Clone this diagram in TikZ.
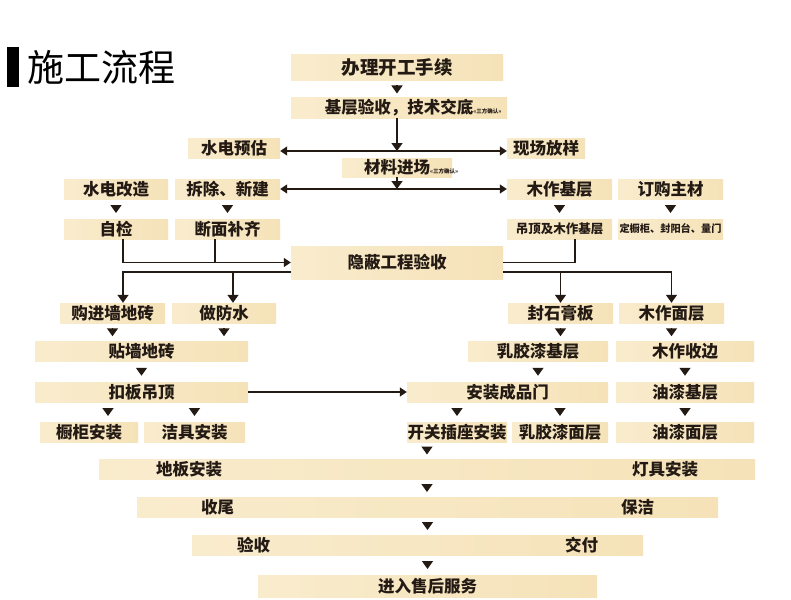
\documentclass[tikz,border=0pt]{standalone}
\usepackage{fontspec}
\setmainfont{Noto Sans CJK SC}
\usetikzlibrary{arrows.meta,calc}

\definecolor{boxleft}{RGB}{249,236,205}
\definecolor{boxright}{RGB}{245,226,184}
\definecolor{ink}{RGB}{36,26,20}

\newcommand{\boxfont}{\fontsize{16.5}{18}\selectfont\bfseries}
\newcommand{\sanfang}{\rlap{\fontsize{5.5}{6}\selectfont «三方确认»}}
\newcommand{\tri}[2]{\path (#1) coordinate (t) -- (t |- #2.north) coordinate[midway] (m);
    \draw[vtip] ([yshift=4pt]m) -- ([yshift=-4pt]m);}

\tikzset{
    box/.style={left color=boxleft, right color=boxright, inner sep=0pt, minimum height=20, text=ink, font=\boxfont},
    line/.style={draw=ink, line width=1.5pt},
    vtip/.style={line, -{Triangle[width=11pt,length=8pt]}},
    htip/.style={line, -{Triangle[width=9pt,length=7pt]}}
}

\begin{document}
\begin{tikzpicture}[x=1pt, y=-1pt]
                \useasboundingbox (0,0) rectangle (791,599);

                \node[fill=black, minimum width=12, minimum height=40, inner sep=0pt] (bar) at (13,67) {};
                \node[anchor=west, inner sep=0pt, font=\fontsize{37}{40}\selectfont] (title) at (27,67) {施工流程};

                \node[box, minimum width=212, minimum height=26, font=\fontsize{18.5}{20}\selectfont\bfseries] (kaigong) at (397,68) {办理开工手续};
                \node[box, minimum width=216] (jiceng) at (399,108) {基层验收，技术交底\sanfang};
                \node[box, minimum width=92] (shuidian) at (234,148) {水电预估};
                \node[box, minimum width=78] (xianchang) at (546,148) {现场放样};
                \node[box, minimum width=110, minimum height=19] (cailiao) at (397,167.5) {材料进场\sanfang};

                \foreach \name/\x/\w/\txt in {gaizao/116/104/水电改造, chaichu/227.5/105/拆除、新建, mujiceng/559.5/105/木作基层, zhucai/670.5/105/订购主材}
                    {
                        \node[box, minimum width=\w] (\name) at (\x,189) {\txt};
                    }
                \node[box, minimum width=104] (zijian) at (116,229) {自检};
                \node[box, minimum width=105] (duanmian) at (227.5,229) {断面补齐};
                \node[box, minimum width=105, font=\fontsize{12.5}{14}\selectfont\bfseries] (diaoding) at (559.5,229) {吊顶及木作基层};
                \node[box, minimum width=105, font=\fontsize{10.2}{12}\selectfont\bfseries] (dinggui) at (670.5,229) {定橱柜、封阳台、量门};

                \node[box, minimum width=212, minimum height=33] (yinbi) at (397,262.5) {隐蔽工程验收};

                \foreach \name/\x/\w/\txt in {goujin/112.5/105/购进墙地砖, fangshui/224/104/做防水, shigao/560.5/105/封石膏板, mumian/671.5/105/木作面层}
                    {
                        \node[box, minimum width=\w] (\name) at (\x,313) {\txt};
                    }
                \foreach \name/\x/\w/\txt in {tieqiang/141.5/213/贴墙地砖, rujiao/538/140/乳胶漆基层, shoubian/685/138/木作收边}
                    {
                        \node[box, minimum width=\w] (\name) at (\x,351.5) {\txt};
                    }
                \foreach \name/\x/\w/\txt in {kouban/141.5/213/扣板吊顶, menan/507.5/201/安装成品门, youqi/685/138/油漆基层}
                    {
                        \node[box, minimum width=\w] (\name) at (\x,392) {\txt};
                    }
                \foreach \name/\x/\w/\txt in {chugui/89/98/橱柜安装, jieju/194.5/101/洁具安装, kaiguan/457/100/开关插座安装, rujiaomian/560/96/乳胶漆面层, youqimian/685/138/油漆面层}
                    {
                        \node[box, minimum width=\w] (\name) at (\x,432) {\txt};
                    }

                \node[box, minimum width=656] (diban) at (427,469) {地板安装\hspace{410pt}灯具安装};
                \node[box, minimum width=581] (shouwei) at (427.5,507) {收尾\hspace{387pt}保洁};
                \node[box, minimum width=451] (yanshou) at (417.5,545) {验收\hspace{295pt}交付};
                \node[box, minimum width=339, minimum height=22] (shouhou) at (427.5,586) {进入售后服务};

                \foreach \a/\b in {kaigong.south/jiceng, gaizao.south/zijian, chaichu.south/duanmian, mujiceng.south/diaoding, zhucai.south/dinggui,
                    goujin.south/tieqiang, fangshui.south/tieqiang, shigao.south/rujiao, mumian.south/shoubian,
                    tieqiang.south/kouban, rujiao.south/menan, shoubian.south/youqi,
                    kouban.south -| jieju/jieju, menan.south -| kaiguan/kaiguan, menan.south -| rujiaomian/rujiaomian, youqi.south/youqimian,
                    kaiguan.south -| diban/diban, diban.south/shouwei, shouwei.south/yanshou, yanshou.south -| shouhou/shouhou}
                    {
                        \tri{\a}{\b}
                    }
                \tri{$(kouban.south -| chugui)+(19,0)$}{chugui}

                \coordinate (j1) at (397,151);
                \draw[vtip] (jiceng.south -| j1) -- (j1);
                \draw[htip] (j1) -- (j1 -| shuidian.east);
                \draw[htip] (j1) -- (j1 -| xianchang.west);
                \coordinate (j2) at (cailiao.south |- chaichu.east);
                \draw[vtip] (cailiao.south) -- (j2);
                \draw[htip] (j2) -- (chaichu.east);
                \draw[htip] (j2) -- (mujiceng.west);

                \coordinate (zj) at ([xshift=7pt]zijian.south);
                \coordinate (dm) at ([xshift=-12.5pt]duanmian.south);
                \coordinate (dd) at ([xshift=15.5pt]diaoding.south);
                \draw[htip] (zj) |- (yinbi.west);
                \draw[line] (dm) -- (dm |- yinbi.west);
                \draw[line] (dd) |- (yinbi.east);

                \coordinate (yl) at ([yshift=-9.5pt]yinbi.west);
                \coordinate (yr) at ([yshift=-9.5pt]yinbi.east);
                \coordinate (gj) at ([xshift=10.5pt]goujin.north);
                \coordinate (fs) at ([xshift=9pt]fangshui.north);
                \draw[vtip] (yl) -| (gj);
                \draw[vtip] (fs |- yl) -- (fs);
                \draw[vtip] (yr) -| (mumian.north);
                \draw[vtip] (shigao.north |- yr) -- (shigao.north);

                \draw[htip] (kouban.east) -- (menan.west);
            \end{tikzpicture}
\end{document}
